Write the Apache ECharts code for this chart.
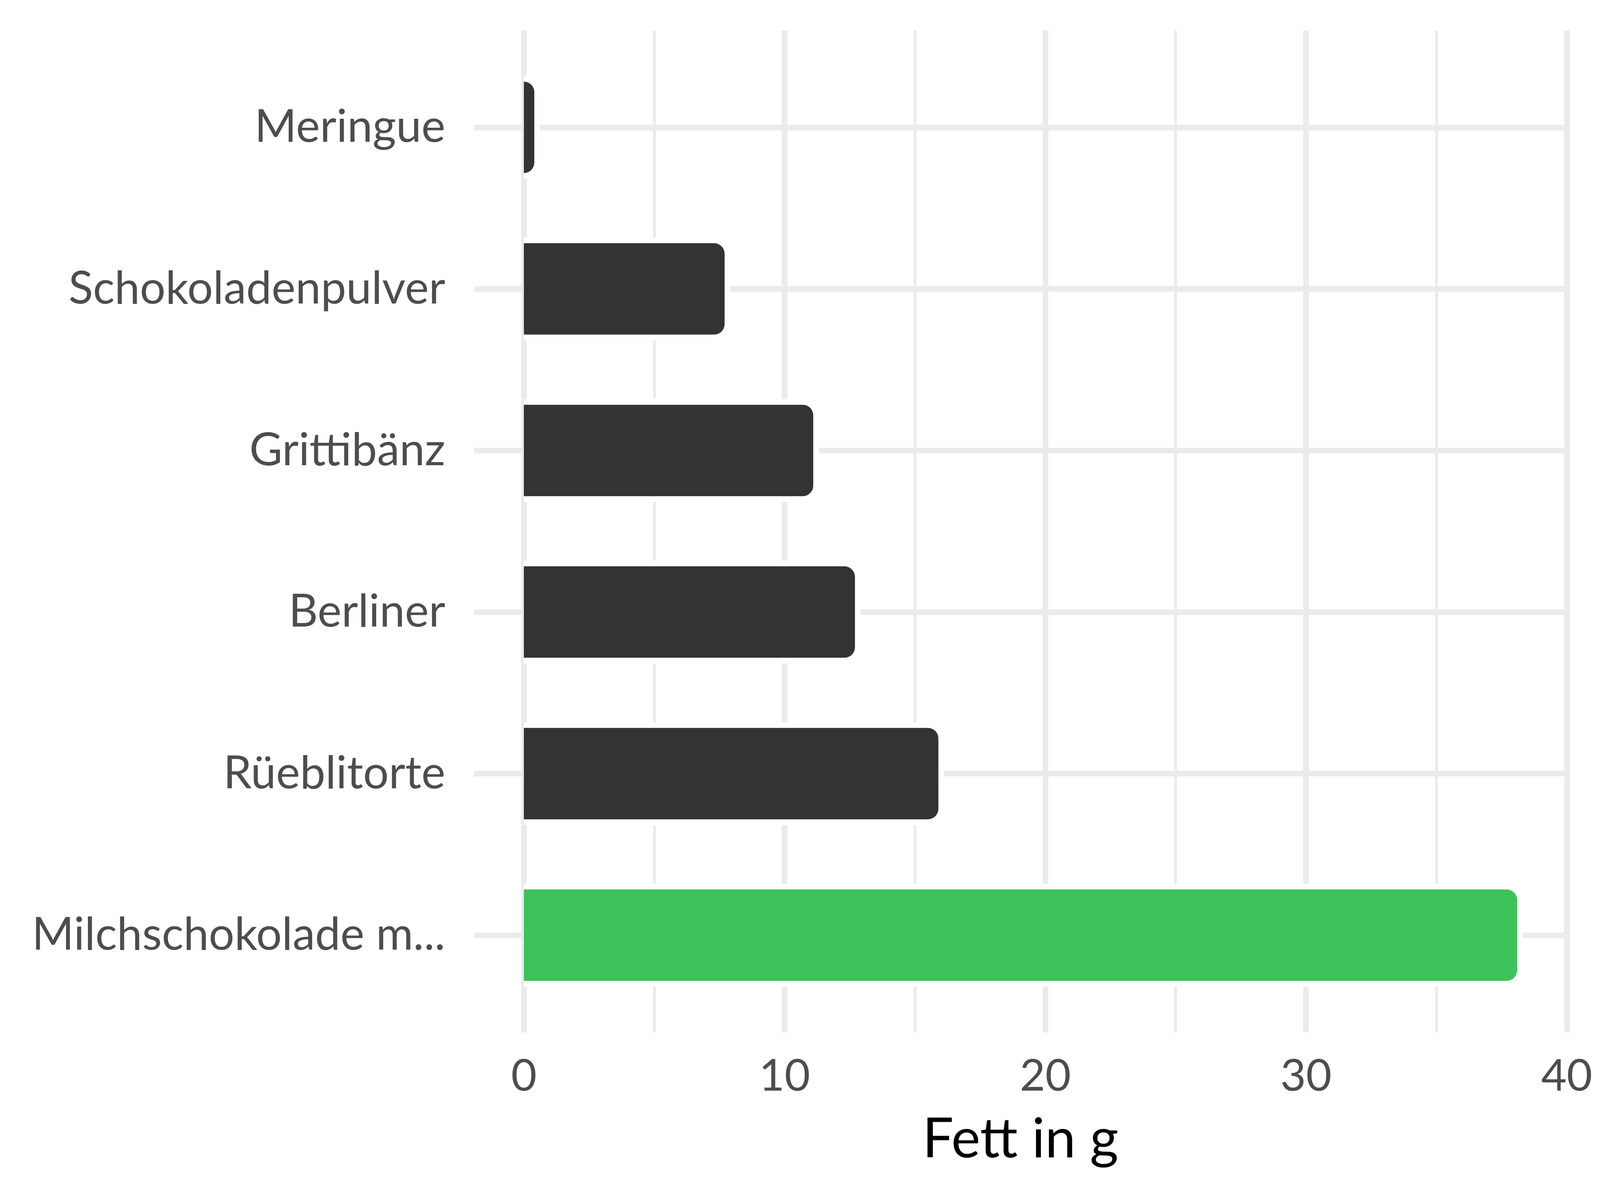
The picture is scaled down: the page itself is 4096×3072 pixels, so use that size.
<!DOCTYPE html>
<html>
<head>
<meta charset="utf-8">
<script src="https://cdn.jsdelivr.net/npm/echarts@6/dist/echarts.min.js"></script>
<style>
html,body{margin:0;padding:0;background:#fff;}
#chart{width:4096px;height:3072px;}
</style>
</head>
<body>
<div id="chart"></div>
<script>
const categories = ['Meringue', 'Schokoladenpulver', 'Grittibänz', 'Berliner', 'Rüeblitorte', 'Milchschokolade m...'];
const values = [0.4, 7.7, 11.1, 12.7, 15.9, 38.1];
const xTicks = [0, 10, 20, 30, 40];
const axisTitle = 'Fett in g';
const barColors = ['#333333', '#333333', '#333333', '#333333', '#333333', '#3dc25a'];

const FONT = 'Lato';
const GRID_COLOR = '#ebebeb';
const BAR_H = 234;
const HALO = 14.5;
const RADIUS = 27;

const chart = echarts.init(document.getElementById('chart'), null, {renderer: 'canvas'});

const option = {
  backgroundColor: '#ffffff',
  animation: false,
  grid: [
    {left: 1341.2, top: 78, width: 2669.6, height: 2565, containLabel: false},
    {left: 1214, top: 326, width: 2797, height: 2068, containLabel: false}
  ],
  xAxis: [
    {
      gridIndex: 0, type: 'value',
      min: xTicks[0], max: xTicks[xTicks.length - 1], interval: xTicks[1] - xTicks[0],
      axisLine: {show: false}, axisTick: {show: false},
      axisLabel: {fontFamily: FONT, fontSize: 113, color: '#4d4d4d', margin: 113, verticalAlign: 'middle'},
      splitLine: {show: true, lineStyle: {color: GRID_COLOR, width: 14.5}},
      minorTick: {show: false, splitNumber: 2},
      minorSplitLine: {show: true, lineStyle: {color: GRID_COLOR, width: 7.25}}
    },
    {
      gridIndex: 1, type: 'value', min: -1.905, max: 40.005,
      axisLine: {show: false}, axisTick: {show: false}, axisLabel: {show: false}, splitLine: {show: false},
      name: axisTitle, nameLocation: 'middle', nameGap: 524,
      nameTextStyle: {fontFamily: FONT, fontSize: 141, color: '#000000', verticalAlign: 'middle'}
    }
  ],
  yAxis: [
    {gridIndex: 0, type: 'value', show: false},
    {
      gridIndex: 1, type: 'category', data: categories, inverse: true, boundaryGap: false,
      axisLine: {show: false}, axisTick: {show: false},
      axisLabel: {interval: 0, fontFamily: FONT, fontSize: 116, color: '#4d4d4d', margin: 74, padding: [10, 0, 0, 0]},
      splitLine: {show: true, interval: 0, lineStyle: {color: GRID_COLOR, width: 14.5}}
    }
  ],
  series: [
    {
      type: 'custom', xAxisIndex: 1, yAxisIndex: 1, clip: false, z: 2, silent: true,
      data: values.map((v, i) => [v, i]),
      encode: {x: 0, y: 1},
      renderItem: function (params, api) {
        const v = api.value(0), i = api.value(1);
        const p0 = api.coord([0, i]);
        const p1 = api.coord([v, i]);
        return {
          type: 'rect',
          shape: {
            x: p0[0], y: p1[1] - BAR_H / 2 - HALO,
            width: p1[0] - p0[0] + HALO, height: BAR_H + 2 * HALO,
            r: [0, RADIUS + HALO, RADIUS + HALO, 0]
          },
          style: {fill: '#ffffff'}
        };
      }
    },
    {
      type: 'bar', xAxisIndex: 1, yAxisIndex: 1, clip: false, z: 3,
      barWidth: BAR_H,
      data: values.map((v, i) => ({value: v, itemStyle: {color: barColors[i]}})),
      itemStyle: {borderRadius: [0, RADIUS, RADIUS, 0]}
    }
  ]
};
chart.setOption(option);
</script>
</body>
</html>
